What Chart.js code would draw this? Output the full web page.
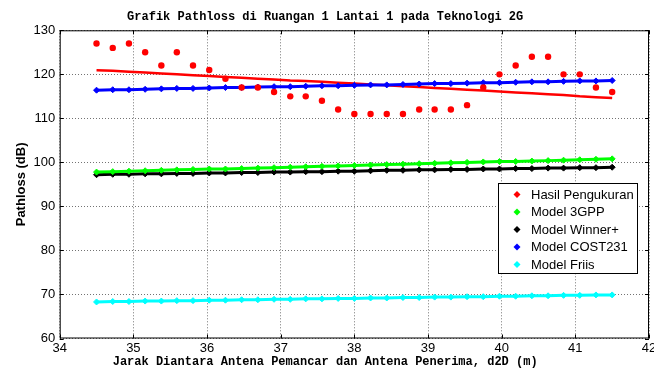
<!DOCTYPE html>
<html>
<head>
<meta charset="utf-8">
<script src="https://cdn.jsdelivr.net/npm/chart.js@4.4.0/dist/chart.umd.min.js"></script>
<style>
  html, body { margin: 0; padding: 0; background: #fff; }
</style>
</head>
<body>
<canvas id="myChart" width="654" height="370"></canvas>
<script>
// jarak d2D (m)
var jarak = [34.50, 34.72, 34.94, 35.16, 35.38, 35.59, 35.81, 36.03, 36.25, 36.47, 36.69,
  36.91, 37.13, 37.34, 37.56, 37.78, 38.00, 38.22, 38.44, 38.66, 38.88, 39.09,
  39.31, 39.53, 39.75, 39.97, 40.19, 40.41, 40.63, 40.84, 41.06, 41.28, 41.50];

var hasilPengukuran = [127, 126, 127, 125, 122, 125, 122, 121, 119, 117, 117,
  116, 115, 115, 114, 112, 111, 111, 111, 111, 112, 112,
  112, 113, 117, 120, 122, 124, 124, 120, 120, 117, 116];

// garis tren hasil pengukuran
var trenPengukuran = [120.9, 120.8, 120.6, 120.4, 120.2, 120.0, 119.8, 119.6, 119.4, 119.2, 119.0,
  118.8, 118.6, 118.5, 118.3, 118.1, 117.9, 117.7, 117.5, 117.3, 117.1, 116.9,
  116.7, 116.5, 116.3, 116.1, 115.9, 115.7, 115.5, 115.3, 115.0, 114.8, 114.6];

var model3GPP = [97.8, 97.9, 98.0, 98.1, 98.2, 98.3, 98.4, 98.5, 98.5, 98.6, 98.7,
  98.8, 98.9, 99.0, 99.1, 99.2, 99.3, 99.4, 99.5, 99.6, 99.7, 99.8,
  99.9, 100.0, 100.1, 100.2, 100.2, 100.3, 100.4, 100.5, 100.6, 100.7, 100.8];

var modelWinner = [97.2, 97.3, 97.3, 97.4, 97.4, 97.5, 97.5, 97.6, 97.6, 97.7, 97.7,
  97.8, 97.8, 97.9, 97.9, 98.0, 98.0, 98.1, 98.2, 98.2, 98.3, 98.3,
  98.4, 98.4, 98.5, 98.5, 98.6, 98.6, 98.7, 98.7, 98.8, 98.8, 98.9];

var modelCOST231 = [116.4, 116.5, 116.5, 116.6, 116.7, 116.8, 116.8, 116.9, 117.0, 117.0, 117.1,
  117.2, 117.2, 117.3, 117.4, 117.4, 117.5, 117.6, 117.6, 117.7, 117.8, 117.9,
  117.9, 118.0, 118.1, 118.1, 118.2, 118.3, 118.3, 118.4, 118.5, 118.5, 118.6];

var modelFriis = [68.3, 68.4, 68.4, 68.5, 68.5, 68.6, 68.6, 68.7, 68.7, 68.8, 68.8,
  68.9, 68.9, 69.0, 69.0, 69.1, 69.1, 69.2, 69.2, 69.3, 69.3, 69.4,
  69.4, 69.5, 69.5, 69.6, 69.6, 69.7, 69.7, 69.8, 69.8, 69.9, 69.9];

var xTicks = [34, 35, 36, 37, 38, 39, 40, 41, 42];
var yTicks = [60, 70, 80, 90, 100, 110, 120, 130];

var legendLabels = ["Hasil Pengukuran", "Model 3GPP", "Model Winner+", "Model COST231", "Model Friis"];
var legendColors = ["#ff0000", "#00ff00", "#000000", "#0000ff", "#00ffff"];

var MONO = "'Liberation Mono', 'Courier New', monospace";

function toPoints(arr) {
  return jarak.map(function (x, i) { return { x: x, y: arr[i] }; });
}

function modelLine(label, color, arr) {
  return {
    label: label,
    data: toPoints(arr),
    showLine: true,
    borderColor: color,
    backgroundColor: color,
    borderWidth: 3,
    pointStyle: "rectRot",
    pointRadius: 3,
    pointBorderWidth: 1
  };
}

// frame, inner tick marks and the boxed legend (matlab style)
var matlabFrame = {
  id: "matlabFrame",
  afterDraw: function (chart) {
    var g = chart.ctx;
    var a = chart.chartArea;
    var xs = chart.scales.x, ys = chart.scales.y;
    g.save();
    g.strokeStyle = "#000";
    g.lineWidth = 1;
    g.strokeRect(a.left + 0.5, a.top + 0.5, a.right - a.left - 1, a.bottom - a.top - 1);
    g.beginPath();
    xTicks.forEach(function (t) {
      var px = Math.round(xs.getPixelForValue(t)) + 0.5;
      g.moveTo(px, a.top); g.lineTo(px, a.top + 4);
      g.moveTo(px, a.bottom); g.lineTo(px, a.bottom - 4);
    });
    yTicks.forEach(function (t) {
      var py = Math.round(ys.getPixelForValue(t)) + 0.5;
      g.moveTo(a.left, py); g.lineTo(a.left + 4, py);
      g.moveTo(a.right, py); g.lineTo(a.right - 4, py);
    });
    g.stroke();

    // legend
    var bx = 498.5, by = 183.5, bw = 139, bh = 90;
    g.fillStyle = "#fff";
    g.fillRect(bx, by, bw, bh);
    g.strokeRect(bx, by, bw, bh);
    g.font = "13px 'Liberation Sans', Arial, sans-serif";
    g.textBaseline = "middle";
    legendLabels.forEach(function (lbl, i) {
      var cy = by + 11 + i * 17.5;
      g.fillStyle = legendColors[i];
      g.beginPath();
      g.moveTo(517, cy - 3.5); g.lineTo(520.5, cy); g.lineTo(517, cy + 3.5); g.lineTo(513.5, cy);
      g.closePath();
      g.fill();
      g.fillStyle = "#000";
      g.fillText(lbl, 531, cy + 0.5);
    });
    g.restore();
  }
};

var chart = new Chart(document.getElementById("myChart").getContext("2d"), {
  type: "scatter",
  data: {
    datasets: [
      {
        label: "Hasil Pengukuran",
        data: toPoints(hasilPengukuran),
        borderColor: "#ff0000",
        backgroundColor: "#ff0000",
        pointStyle: "circle",
        pointRadius: 3.2,
        pointBorderWidth: 0
      },
      modelLine("Model 3GPP", "#00ff00", model3GPP),
      modelLine("Model Winner+", "#000000", modelWinner),
      modelLine("Model COST231", "#0000ff", modelCOST231),
      {
        label: "Tren",
        data: toPoints(trenPengukuran),
        showLine: true,
        borderColor: "#ff0000",
        backgroundColor: "#ff0000",
        borderWidth: 2.5,
        pointRadius: 0
      },
      modelLine("Model Friis", "#00ffff", modelFriis)
    ]
  },
  options: {
    responsive: false,
    animation: false,
    layout: { padding: { left: 0, right: 3.7, top: 0, bottom: 0 } },
    plugins: {
      legend: { display: false },
      tooltip: { enabled: false },
      title: {
        display: true,
        text: "Grafik Pathloss di Ruangan 1 Lantai 1 pada Teknologi 2G",
        color: "#000",
        font: { family: MONO, size: 12, weight: "bold" },
        padding: { top: 10, bottom: 5.9 }
      },
      subtitle: {
        display: true,
        position: "bottom",
        text: "Jarak Diantara Antena Pemancar dan Antena Penerima, d2D (m)",
        color: "#000",
        font: { family: MONO, size: 12, weight: "bold" },
        padding: { top: 0, bottom: 1 }
      }
    },
    scales: {
      x: {
        type: "linear",
        min: 34,
        max: 42,
        afterFit: function (s) { s.height = 16.1; s.paddingRight = 0; s.paddingLeft = 0; },
        ticks: {
          stepSize: 1,
          autoSkip: false,
          maxRotation: 0,
          padding: 2,
          color: "#000",
          font: { size: 13 }
        },
        grid: { color: "rgba(0,0,0,0.55)", drawTicks: false },
        border: { display: false, dash: [1, 2] }
      },
      y: {
        min: 60,
        max: 130,
        afterFit: function (s) { s.width = 59.7; s.paddingTop = 0; s.paddingBottom = 0; },
        ticks: {
          stepSize: 10,
          padding: 4.5,
          color: "#000",
          font: { size: 13 }
        },
        title: {
          display: true,
          text: "Pathloss (dB)",
          color: "#000",
          font: { size: 13, weight: "bold" },
          padding: { top: 14, bottom: 0 }
        },
        grid: { color: "rgba(0,0,0,0.55)", drawTicks: false },
        border: { display: false, dash: [1, 2] }
      }
    }
  },
  plugins: [matlabFrame]
});
</script>
</body>
</html>
